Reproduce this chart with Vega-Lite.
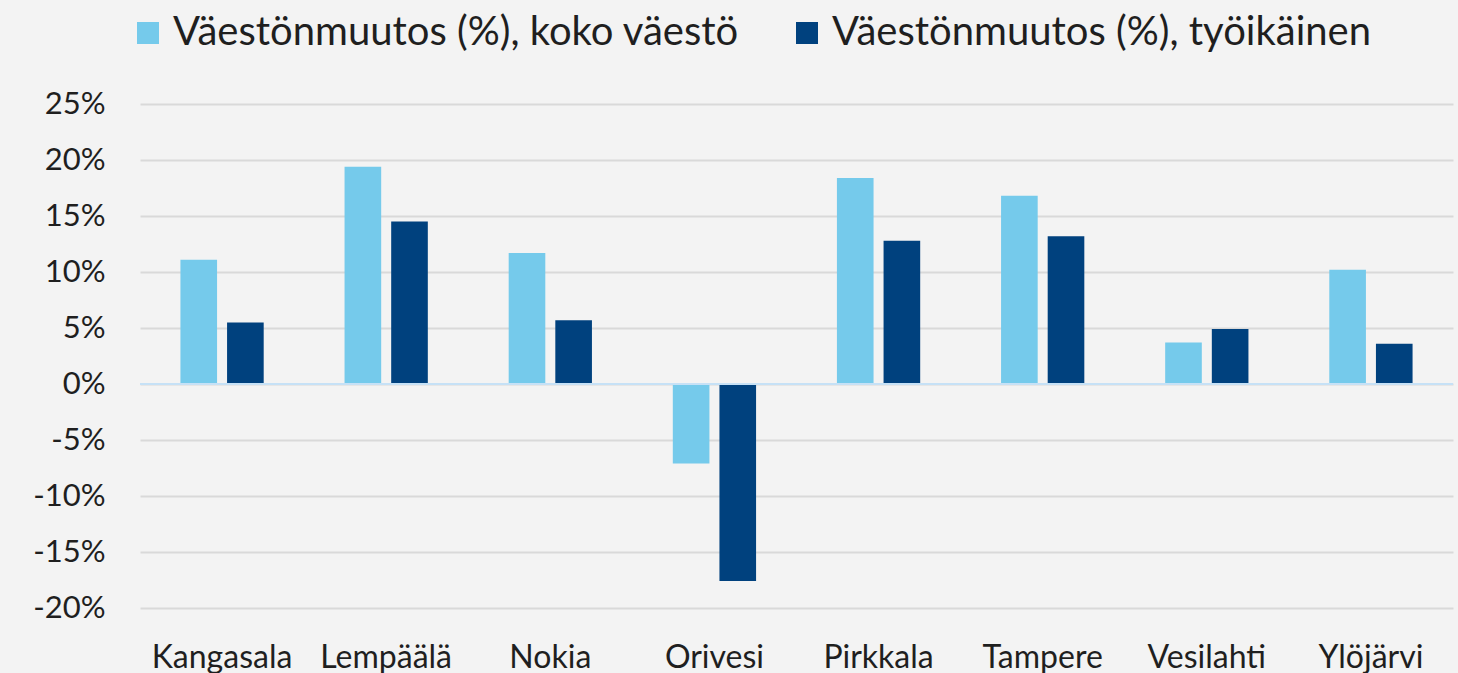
{
  "$schema": "https://vega.github.io/schema/vega-lite/v6.json",
  "width": 1313,
  "height": 504,
  "autosize": {"type": "none"},
  "padding": {"left": 140, "top": 104, "right": 5, "bottom": 65},
  "background": "#f3f3f3",
  "config": {"view": {"stroke": null}, "font": "Lato"},
  "data": {
    "values": [
      {"kunta": "Kangasala", "sarja": "Väestönmuutos (%), koko väestö", "arvo": 11.1},
      {"kunta": "Kangasala", "sarja": "Väestönmuutos (%), työikäinen", "arvo": 5.5},
      {"kunta": "Lempäälä", "sarja": "Väestönmuutos (%), koko väestö", "arvo": 19.4},
      {"kunta": "Lempäälä", "sarja": "Väestönmuutos (%), työikäinen", "arvo": 14.5},
      {"kunta": "Nokia", "sarja": "Väestönmuutos (%), koko väestö", "arvo": 11.7},
      {"kunta": "Nokia", "sarja": "Väestönmuutos (%), työikäinen", "arvo": 5.7},
      {"kunta": "Orivesi", "sarja": "Väestönmuutos (%), koko väestö", "arvo": -7.1},
      {"kunta": "Orivesi", "sarja": "Väestönmuutos (%), työikäinen", "arvo": -17.6},
      {"kunta": "Pirkkala", "sarja": "Väestönmuutos (%), koko väestö", "arvo": 18.4},
      {"kunta": "Pirkkala", "sarja": "Väestönmuutos (%), työikäinen", "arvo": 12.8},
      {"kunta": "Tampere", "sarja": "Väestönmuutos (%), koko väestö", "arvo": 16.8},
      {"kunta": "Tampere", "sarja": "Väestönmuutos (%), työikäinen", "arvo": 13.2},
      {"kunta": "Vesilahti", "sarja": "Väestönmuutos (%), koko väestö", "arvo": 3.7},
      {"kunta": "Vesilahti", "sarja": "Väestönmuutos (%), työikäinen", "arvo": 4.9},
      {"kunta": "Ylöjärvi", "sarja": "Väestönmuutos (%), koko väestö", "arvo": 10.2},
      {"kunta": "Ylöjärvi", "sarja": "Väestönmuutos (%), työikäinen", "arvo": 3.6}
    ]
  },
  "layer": [
    {
      "mark": {"type": "bar"},
      "encoding": {
        "x": {
          "field": "kunta", "type": "nominal", "sort": null,
          "scale": {"paddingInner": 0, "paddingOuter": 0},
          "axis": {"title": null, "domain": false, "ticks": false, "labelAngle": 0, "labelFontSize": 32, "labelColor": "#1f1f1f", "labelPadding": 34, "grid": false}
        },
        "xOffset": {
          "field": "sarja", "type": "nominal", "sort": null,
          "scale": {"paddingInner": 0.2146, "paddingOuter": 0.867}
        },
        "y": {
          "field": "arvo", "type": "quantitative",
          "scale": {"domain": [-20, 25], "nice": false, "zero": false},
          "axis": {"title": null, "domain": false, "ticks": false, "values": [-20, -15, -10, -5, 0, 5, 10, 15, 20, 25], "labelExpr": "datum.value + '%'", "labelFontSize": 31, "labelColor": "#1f1f1f", "labelPadding": 35, "gridColor": "#d9d9d9", "gridWidth": 2}
        },
        "color": {
          "field": "sarja", "type": "nominal", "sort": null,
          "scale": {"domain": ["Väestönmuutos (%), koko väestö", "Väestönmuutos (%), työikäinen"], "range": ["#75caeb", "#00417e"]},
          "legend": {"title": null, "orient": "none", "direction": "horizontal", "legendX": -12, "legendY": -91, "symbolType": "square", "symbolSize": 484, "symbolStrokeWidth": 0, "labelFontSize": 40, "labelColor": "#1f1f1f", "labelOffset": 5, "columnPadding": 47, "labelLimit": 1000}
        }
      }
    },
    {
      "mark": {"type": "rule", "color": "#c6e1f6", "strokeWidth": 2},
      "encoding": {"y": {"datum": 0}}
    }
  ]
}
